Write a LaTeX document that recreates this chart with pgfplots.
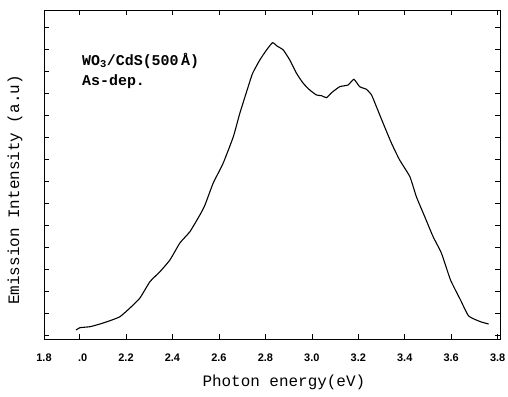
\documentclass[border=0pt]{standalone}
\usepackage{fontspec}
\setmainfont{Liberation Mono}
\newfontfamily\ticksf{Liberation Sans}
\usepackage{pgfplots}
\pgfplotsset{compat=1.18}
\begin{document}
\begin{tikzpicture}
\path[use as bounding box] (-44bp,-58bp) rectangle (464bp,339bp);
\begin{axis}[
  at={(0,0)}, anchor=south west,
  scale only axis, width=456bp, height=329bp,
  xmin=1.847, xmax=3.81, ymin=0, ymax=329,
  xtick={1.847,2.0,2.2,2.4,2.6,2.8,3.0,3.2,3.4,3.6,3.8},
  xticklabels={1.8,\phantom{2}.0,2.2,2.4,2.6,2.8,3.0,3.2,3.4,3.6,3.8},
  minor x tick num=4,
  ytick={4,25.95,47.9,69.85,91.8,113.75,135.7,157.65,179.6,201.55,223.5,245.45,267.4,289.35,311.3},
  yticklabels={},
  major tick length=5bp, minor tick length=2.5bp,
  tick style={line width=0.6pt, black},
  axis line style={line width=0.8pt},
  xticklabel style={font=\ticksf\bfseries\fontsize{11}{13}\selectfont, anchor=center, yshift=-19bp},
  xlabel={Photon energy(eV)},
  xlabel style={font=\fontsize{16}{18}\selectfont, at={(axis description cs:0.526,-0.131)}, anchor=center},
  ylabel={Emission Intensity (a.u)},
  ylabel style={font=\fontsize{16}{18}\selectfont, at={(axis description cs:-0.0636,0.453)}, anchor=center},
]
\addplot[black, line width=1.1pt, smooth, tension=0.3] table {
x y
1.985 9
2.002 11.3
2.045 12.3
2.088 15
2.131 18.3
2.174 22.3
2.217 31
2.260 41
2.303 57.3
2.346 67.3
2.389 79
2.432 96
2.475 107.3
2.518 124
2.540 134
2.575 155.7
2.618 175.7
2.662 202.3
2.690 225.7
2.726 252.3
2.745 265.7
2.776 279
2.805 289
2.831 296.3
2.850 293
2.877 289
2.905 279
2.934 265.7
2.963 255.7
2.991 249
3.020 244
3.042 243.3
3.063 241.3
3.085 246.3
3.120 252.3
3.156 254
3.181 259.7
3.206 252.3
3.235 249.7
3.257 244
3.278 232.3
3.307 215.7
3.343 195.7
3.378 179
3.422 162.3
3.450 142.3
3.486 122.3
3.522 102.3
3.558 85.7
3.597 59
3.640 39
3.675 23
3.726 17.3
3.761 15
};
\node[anchor=north west, align=left, font=\bfseries\fontsize{15}{20}\selectfont, inner sep=0pt]
  at (axis description cs:0.0833,0.869) {WO\textsubscript{3}/CdS(500\,Å)\\As-dep.};
\end{axis}
\end{tikzpicture}
\end{document}
